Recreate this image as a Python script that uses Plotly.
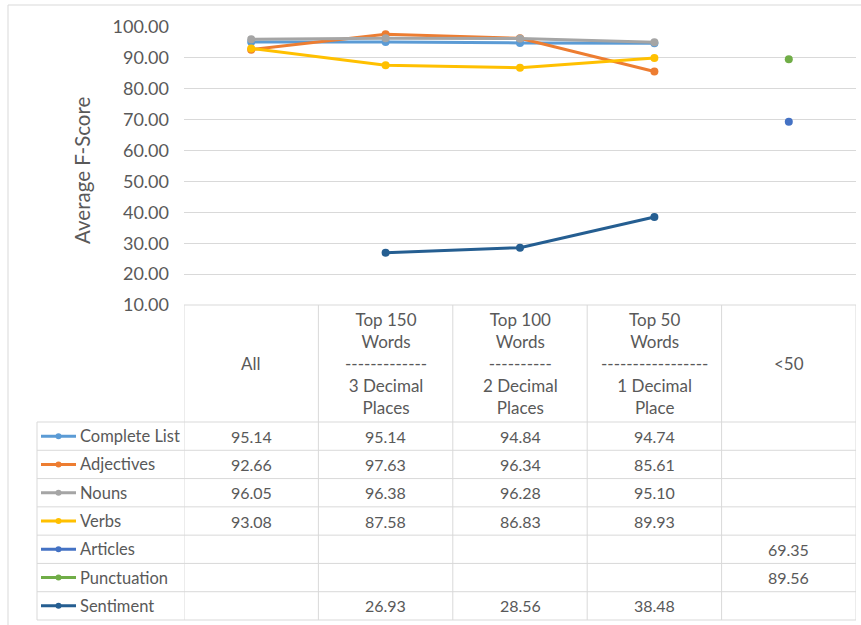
import plotly.graph_objects as go

# ---------------- data ----------------
categories = ["All", "Top 150 Words", "Top 100 Words", "Top 50 Words", "<50"]
header_labels = [
    "All",
    "Top 150<br>Words<br>-------------<br>3 Decimal<br>Places",
    "Top 100<br>Words<br>----------<br>2 Decimal<br>Places",
    "Top 50<br>Words<br>-----------------<br>1 Decimal<br>Place",
    "&lt;50",
]
series_names = ["Complete List", "Adjectives", "Nouns", "Verbs", "Articles", "Punctuation", "Sentiment"]
complete_list = [95.14, 95.14, 94.84, 94.74, None]
adjectives = [92.66, 97.63, 96.34, 85.61, None]
nouns = [96.05, 96.38, 96.28, 95.10, None]
verbs = [93.08, 87.58, 86.83, 89.93, None]
articles = [None, None, None, None, 69.35]
punctuation = [None, None, None, None, 89.56]
sentiment = [None, 26.93, 28.56, 38.48, None]
series_values = [complete_list, adjectives, nouns, verbs, articles, punctuation, sentiment]
series_colors = ["#5B9BD5", "#ED7D31", "#A5A5A5", "#FFC000", "#4472C4", "#70AD47", "#255E91"]
y_ticks = [10, 20, 30, 40, 50, 60, 70, 80, 90, 100]

# ---------------- layout constants (pixels) ----------------
W, H = 861, 625
FONT = "Lato"
TXT = "#595959"
GRID = "#D9D9D9"
plot_left, plot_right = 184, 856
plot_top, plot_bottom = 27, 305
table_left = 37
rows_top, table_bottom = 422, 620
row_h = (table_bottom - rows_top) / len(series_names)


def px(x):
    return x / W


def py(y):
    return 1 - y / H


fig = go.Figure()

for name, vals, col in zip(series_names, series_values, series_colors):
    fig.add_trace(go.Scatter(
        x=categories, y=vals, name=name, mode="lines+markers",
        line=dict(color=col, width=3), marker=dict(color=col, size=8),
        connectgaps=False, cliponaxis=False, showlegend=False,
    ))

shapes = []
annotations = []

# outer chart border
shapes.append(dict(type="rect", xref="paper", yref="paper", x0=px(8), x1=px(900), y0=py(5), y1=py(700),
                   line=dict(color=GRID, width=1), fillcolor="rgba(0,0,0,0)", layer="below"))

# table top border
shapes.append(dict(type="line", xref="paper", yref="paper", x0=px(plot_left), x1=px(plot_right),
                   y0=py(plot_bottom), y1=py(plot_bottom), line=dict(color=GRID, width=1)))
# vertical column boundaries
for i in range(len(categories) + 1):
    shapes.append(dict(type="line", xref="x", yref="paper", x0=i - 0.5, x1=i - 0.5,
                       y0=py(plot_bottom), y1=py(table_bottom), line=dict(color=GRID, width=1)))
# left border of the legend column
shapes.append(dict(type="line", xref="paper", yref="paper", x0=px(table_left), x1=px(table_left),
                   y0=py(rows_top), y1=py(table_bottom), line=dict(color=GRID, width=1)))
# horizontal row lines
for r in range(len(series_names) + 1):
    yy = rows_top + r * row_h
    shapes.append(dict(type="line", xref="paper", yref="paper", x0=px(table_left), x1=px(plot_right),
                       y0=py(yy), y1=py(yy), line=dict(color=GRID, width=1)))

# header labels
for cat, lab in zip(categories, header_labels):
    annotations.append(dict(x=cat, xref="x", y=py((plot_bottom + rows_top) / 2), yref="paper",
                            text=lab, showarrow=False, xanchor="center", yanchor="middle",
                            font=dict(family=FONT, size=17, color=TXT)))

# rows: legend key + values
for r, (name, vals, col) in enumerate(zip(series_names, series_values, series_colors)):
    yc = rows_top + (r + 0.5) * row_h
    shapes.append(dict(type="line", xref="paper", yref="paper", x0=px(41), x1=px(76),
                       y0=py(yc), y1=py(yc), line=dict(color=col, width=3)))
    shapes.append(dict(type="circle", xref="paper", yref="paper", x0=px(55.5), x1=px(61.5),
                       y0=py(yc - 3), y1=py(yc + 3), line=dict(color=col, width=0), fillcolor=col))
    annotations.append(dict(x=px(78), xref="paper", y=py(yc), yref="paper", text=name,
                            showarrow=False, xanchor="left", yanchor="middle",
                            font=dict(family=FONT, size=16.5, color=TXT)))
    for cat, v in zip(categories, vals):
        if v is None:
            continue
        annotations.append(dict(x=cat, xref="x", y=py(yc), yref="paper", text=f"{v:.2f}",
                                showarrow=False, xanchor="center", yanchor="middle",
                                font=dict(family=FONT, size=16, color=TXT)))

# y-axis title
annotations.append(dict(x=px(82), xref="paper", y=py(171), yref="paper", text="Average F-Score",
                        textangle=-90, showarrow=False, xanchor="center", yanchor="middle",
                        font=dict(family=FONT, size=20.5, color=TXT)))

fig.update_layout(
    template="none",
    width=W, height=H, autosize=False,
    margin=dict(l=0, r=0, t=0, b=0, pad=0, autoexpand=False),
    paper_bgcolor="white", plot_bgcolor="white",
    font=dict(family=FONT, color=TXT),
    showlegend=False,
    xaxis=dict(type="category", categoryorder="array", categoryarray=categories,
               domain=[px(plot_left), px(plot_right)], range=[-0.5, len(categories) - 0.5],
               showticklabels=False, showgrid=False, zeroline=False, showline=False, ticks="",
               automargin=False),
    yaxis=dict(domain=[py(plot_bottom), py(plot_top)], range=[10, 100], tickvals=y_ticks,
               tickformat=".2f", showgrid=True, gridcolor=GRID, gridwidth=1, zeroline=False,
               showline=False, ticks="", ticklabelstandoff=14, automargin=False,
               tickfont=dict(family=FONT, size=18, color=TXT)),
    shapes=shapes,
    annotations=annotations,
)

fig.write_html("out.html", config={"displayModeBar": False},
               post_script="document.body.style.margin='0';")
